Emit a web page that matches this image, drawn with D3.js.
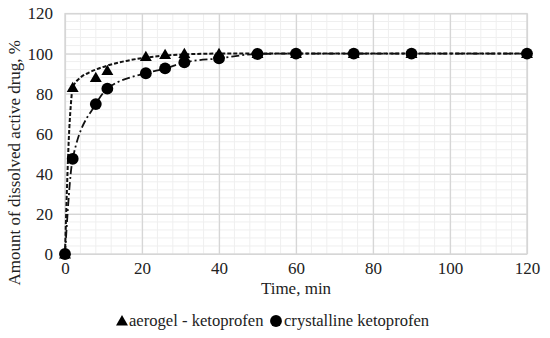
<!DOCTYPE html>
<html>
<head>
<meta charset="utf-8">
<script src="https://cdn.jsdelivr.net/npm/d3@7"></script>
<style>
  body { margin: 0; background: #fff; }
  svg text { font-family: "Liberation Serif", "Times New Roman", serif; fill: #222; }
</style>
</head>
<body>
<div id="chart"></div>
<script>
// dissolution data, time in min, amount in %
var times = [0, 2, 8, 11, 21, 26, 31, 40, 50, 60, 75, 90, 120]
var aerogel = [0, 83, 88, 91.5, 98.5, 99.5, 100, 100, 100, 100, 100, 100, 100]
var crystalline = [0, 47.5, 74.8, 82.5, 90.2, 92.6, 95.6, 97.6, 99.8, 100, 100, 100, 100]
// trend line of the aerogel series
var aerogelFitT = [0, 0.5, 1, 1.5, 2, 4, 6, 8, 11, 15, 21, 26, 31, 40, 60, 120]
var aerogelFitY = [0, 32, 58, 74, 83, 88, 90.3, 92, 94, 96, 98, 99, 99.6, 100, 100, 100]
var xTicks = [0, 20, 40, 60, 80, 100, 120]
var yTicks = [0, 20, 40, 60, 80, 100, 120]

;(function() {
  var
    WIDTH = 550,
    HEIGHT = 338,
    FONT = '"Liberation Serif", "Times New Roman", serif',
    margin = { left: 65, right: 23, top: 13.5, bottom: 84 }

  var svg = d3.select('#chart').append('svg')
    .attr('width', WIDTH)
    .attr('height', HEIGHT)

  var x = d3.scaleLinear().domain([0, 120]).range([margin.left, WIDTH - margin.right])
  var y = d3.scaleLinear().domain([0, 120]).range([HEIGHT - margin.bottom, margin.top])

  var grid = svg.append('g')

  // minor grid every 4 units
  grid.selectAll('.minor-x')
    .data(d3.range(0, 121, 4))
    .enter().append('line')
    .attr('x1', d => x(d)).attr('x2', d => x(d))
    .attr('y1', y(0)).attr('y2', y(120))
    .attr('stroke', '#efefef').attr('stroke-width', 1)

  grid.selectAll('.minor-y')
    .data(d3.range(0, 121, 4))
    .enter().append('line')
    .attr('y1', d => y(d)).attr('y2', d => y(d))
    .attr('x1', x(0)).attr('x2', x(120))
    .attr('stroke', '#efefef').attr('stroke-width', 1)

  // major grid
  var xAxis = d3.axisBottom(x).tickValues(xTicks).tickSize(-(y(0) - y(120))).tickPadding(8)
  var yAxis = d3.axisLeft(y).tickValues(yTicks).tickSize(-(x(120) - x(0))).tickPadding(12)

  var gx = svg.append('g').attr('transform', `translate(0 ${y(0)})`).call(xAxis)
  var gy = svg.append('g').attr('transform', `translate(${x(0)} 0)`).call(yAxis)

  ;[gx, gy].forEach(function(g) {
    g.attr('font-family', FONT).attr('font-size', 17)
    g.select('.domain').remove()
    g.selectAll('line').attr('stroke', '#d6d6d6').attr('stroke-width', 1.2)
    g.selectAll('text').attr('fill', '#222')
  })

  svg.append('rect')
    .attr('x', x(0)).attr('y', y(120))
    .attr('width', x(120) - x(0)).attr('height', y(0) - y(120))
    .attr('fill', 'none').attr('stroke', '#d6d6d6').attr('stroke-width', 1.2)

  // trend lines
  var fitLine = d3.line()
    .x(d => x(d[0])).y(d => y(d[1]))
    .curve(d3.curveMonotoneX)

  svg.append('path')
    .datum(times.map((t, i) => [t, crystalline[i]]))
    .attr('d', fitLine)
    .attr('fill', 'none').attr('stroke', '#111').attr('stroke-width', 1.8)
    .attr('stroke-dasharray', '8 3 2 3')

  svg.append('path')
    .datum(aerogelFitT.map((t, i) => [t, aerogelFitY[i]]))
    .attr('d', fitLine)
    .attr('fill', 'none').attr('stroke', '#111').attr('stroke-width', 2)
    .attr('stroke-dasharray', '4 2')

  // markers
  var tri = d3.symbol().type(d3.symbolTriangle).size(62)
  var circ = d3.symbol().type(d3.symbolCircle).size(110)

  svg.append('g').selectAll('path')
    .data(times.map((t, i) => [t, aerogel[i]]))
    .enter().append('path')
    .attr('d', tri)
    .attr('transform', d => `translate(${x(d[0])} ${y(d[1]) + 1})`)
    .attr('fill', '#000')

  svg.append('g').selectAll('path')
    .data(times.map((t, i) => [t, crystalline[i]]))
    .enter().append('path')
    .attr('d', circ)
    .attr('transform', d => `translate(${x(d[0])} ${y(d[1])})`)
    .attr('fill', '#000')

  // axis titles
  svg.append('text')
    .text('Time, min')
    .attr('x', (x(0) + x(120)) / 2).attr('y', 294)
    .attr('text-anchor', 'middle')
    .attr('font-size', 17)

  svg.append('text')
    .text('Amount of dissolved active drug, %')
    .attr('text-anchor', 'middle')
    .attr('font-size', 17)
    .attr('transform', `translate(20 ${(y(0) + y(120)) / 2 + 29}) rotate(-90)`)

  // legend
  var legend = svg.append('g').attr('transform', 'translate(0 321)')
  legend.append('path').attr('d', tri).attr('transform', 'translate(122 1)').attr('fill', '#000')
  legend.append('text').text('aerogel - ketoprofen')
    .attr('x', 129).attr('y', 5).attr('font-size', 16.6)
  legend.append('path').attr('d', circ).attr('transform', 'translate(276 0)').attr('fill', '#000')
  legend.append('text').text('crystalline ketoprofen')
    .attr('x', 284).attr('y', 5).attr('font-size', 16.6)
})()
</script>
</body>
</html>
